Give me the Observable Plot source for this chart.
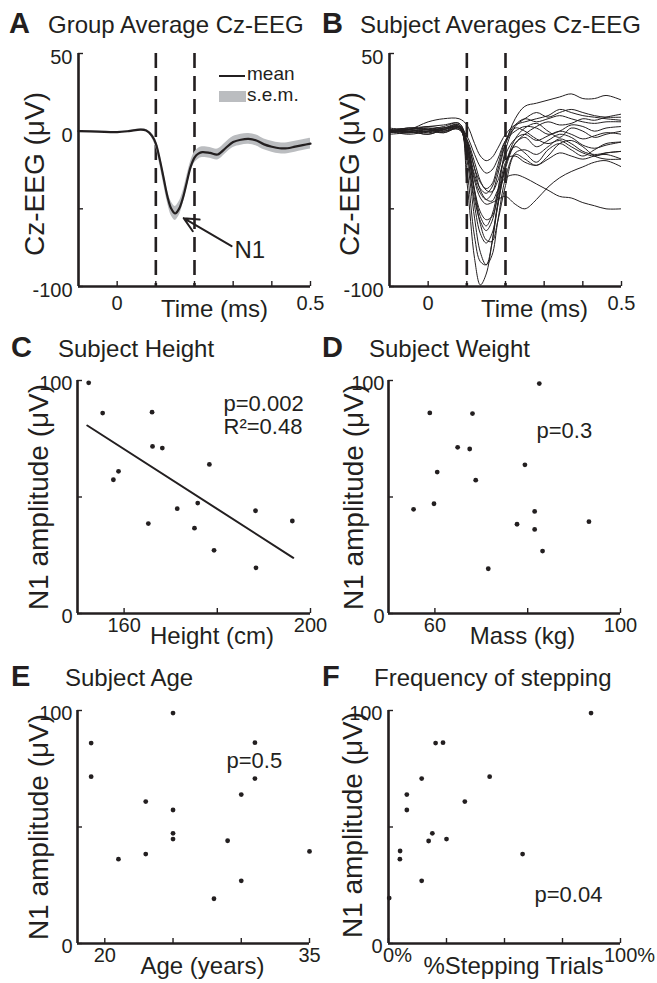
<!DOCTYPE html>
<html>
<head>
<meta charset="utf-8">
<script src="https://cdn.jsdelivr.net/npm/d3@7"></script>
<script src="https://cdn.jsdelivr.net/npm/@observablehq/plot@0.6"></script>
<style>
  body { margin: 0; background: #fff; font-family: "Liberation Sans", Arial, Helvetica, sans-serif; color: #231f20; }
  #fig { position: relative; width: 657px; height: 983px; overflow: hidden; background: #fff; }
  .cell { position: absolute; }
  .ttl { position: absolute; white-space: nowrap; font-size: 24px; line-height: 24px; }
  .ltr { position: absolute; white-space: nowrap; font-size: 29px; line-height: 29px; font-weight: bold; }
  .leg { position: absolute; white-space: nowrap; font-size: 19px; line-height: 16px; }
</style>
</head>
<body>
<div id="fig"></div>
<script>
const INK = "#231f20";
const SEM_FILL = "#bbbdc0";
const FONT = "'Liberation Sans', Arial, Helvetica, sans-serif";

// ---------- Panel A / B shared axes ----------
const timeTicks = [0, 0.1, 0.2, 0.3, 0.4, 0.5];
const timeTickLabels = ["0", "", "", "", "", "0.5"];
const eegTicks = [-100, -50, 0, 50];
const eegTickLabels = ["-100", "", "0", "50"];
const n1Window = [0.1, 0.2];

// ---------- Panel A: group average ----------
const meanTime = [-0.1, -0.05, 0, 0.03, 0.06, 0.075, 0.09, 0.1, 0.11, 0.12, 0.13, 0.14, 0.15, 0.16, 0.17, 0.18, 0.19, 0.2, 0.21, 0.22, 0.24, 0.26, 0.28, 0.3, 0.32, 0.34, 0.36, 0.38, 0.4, 0.42, 0.44, 0.46, 0.48, 0.5];
const meanEEG  = [0, -0.3, -0.6, 0, 1, 0.5, -3, -8, -18, -30, -42, -50, -53, -50, -43, -33, -23, -17, -14.5, -13.5, -14, -15, -11, -7, -5.5, -5, -6, -8.5, -10, -11, -11, -10, -9, -8];
const semEEG   = [0.4, 0.4, 0.4, 0.4, 0.5, 0.6, 1.5, 2.5, 3.5, 4, 4, 4.5, 4.5, 4.5, 4, 4, 3.5, 3.5, 3.5, 3.5, 3.5, 3.5, 3.5, 3.5, 3.5, 3.5, 3.5, 3.5, 3.5, 3.5, 3.5, 3.5, 3.5, 3.5];
const n1ArrowHead = [0.172, -56];
const n1ArrowTail = [0.296, -74];
const n1Text = "N1";
const legendLabels = ["mean", "s.e.m."];

// ---------- Panel B: subject averages ----------
const subjTime = [-0.1, -0.05, 0, 0.04, 0.08, 0.1, 0.12, 0.135, 0.15, 0.165, 0.18, 0.2, 0.225, 0.25, 0.28, 0.31, 0.34, 0.37, 0.4, 0.43, 0.46, 0.5];
const subjectTraces = [
  [0, 1, -1, 1, 3, -32, -82, -99, -92, -72, -46, -22, -8, -4, -10, -6, -2, -4, -9, -11, -9, -7],
  [0, -2, 0, 2, 4, -24, -68, -84, -86, -72, -48, -24, -8, -2, 3, 6, 4, 5, 8, 7, 9, 11],
  [-1, 1, 2, 0, 3, -18, -56, -78, -86, -80, -58, -30, -14, -12, -15, -10, -5, -8, -13, -15, -14, -13],
  [1, 0, -2, 1, 2, -15, -48, -66, -72, -66, -48, -22, -5, 2, 5, 0, -4, 2, 0, -4, -2, 0],
  [0, 2, 1, 3, 5, -10, -40, -60, -70, -71, -58, -35, -15, -18, -22, -16, -8, -6, -10, -16, -18, -18],
  [-2, -1, 0, -1, 2, -14, -44, -58, -64, -58, -40, -12, 3, 8, 12, 9, 12, 14, 12, 10, 9, 9],
  [1, 2, 3, 4, 5, -6, -38, -55, -61, -54, -38, -15, -5, -2, -6, -3, 0, -2, -5, -3, -1, -2],
  [0, -1, 1, 0, 2, -12, -38, -52, -57, -55, -42, -20, -10, -14, -20, -12, -8, -12, -16, -12, -8, -7],
  [-1, 0, -2, 1, 3, -10, -32, -43, -47, -46, -44, -42, -47, -50, -44, -36, -30, -26, -23, -20, -19, -23],
  [0, 1, 0, 2, 1, -6, -24, -38, -44, -45, -38, -30, -28, -30, -34, -38, -42, -43, -46, -48, -50, -50],
  [2, 1, 3, 2, 4, -8, -30, -40, -44, -40, -28, -8, 8, 16, 18, 20, 22, 24, 21, 21, 23, 20],
  [-1, 0, 1, 0, 1, -8, -28, -37, -40, -36, -25, -8, 2, 0, -5, -8, -6, -10, -14, -16, -14, -13],
  [0, 2, 1, -1, 2, -5, -20, -32, -38, -39, -32, -18, -16, -20, -22, -18, -14, -16, -18, -16, -15, -18],
  [1, -1, 0, 2, 3, -6, -24, -33, -37, -34, -22, -6, 4, 8, 6, 8, 10, 8, 6, 5, 6, 6],
  [0, 0, 2, 1, 3, -3, -15, -23, -27, -25, -18, -6, 0, 3, 2, -2, 0, 4, 3, 0, 2, 3],
  [0, 1, 6, 8, 8, 4, -8, -16, -19, -17, -11, -2, 4, 6, 8, 10, 14, 12, 10, 9, 8, 7]
];

// ---------- Panels C-F shared ----------
const n1Ticks = [0, 50, 100];
const n1TickLabels = ["0", "", "100"];

// C: height
const heightTicks = [160, 180, 200];
const heightTickLabels = ["160", "", "200"];
const heightCm = [152.4, 155.4, 166, 166.1, 168.2, 157.7, 158.8, 178.3, 175.8, 171.4, 188.2, 196.1, 165.2, 175.1, 179.3, 188.3];
const heightN1 = [99, 86, 86.4, 71.7, 71, 57.4, 61, 64, 47.4, 45, 44.1, 39.7, 38.6, 36.6, 27.1, 19.6];
const heightFitX = [152.1, 196.3];
const heightFitY = [80.7, 23.9];
const heightStats = ["p=0.002", "R\u00b2=0.48"];

// D: mass
const massTicks = [60, 80, 100];
const massTickLabels = ["60", "", "100"];
const massKg = [82.5, 58.9, 68.1, 64.9, 67.5, 60.5, 68.8, 79.4, 59.8, 55.4, 81.5, 93.2, 77.7, 81.5, 83.2, 71.5];
const massN1 = [98.7, 86.1, 85.8, 71.3, 70.6, 60.7, 57.2, 63.8, 47.1, 44.7, 43.8, 39.4, 38.3, 36.1, 26.8, 19.2];
const massStats = ["p=0.3"];

// E: age
const ageTicks = [20, 25, 30, 35];
const ageTickLabels = ["20", "", "", "35"];
const ageYears = [25, 19, 31, 19, 31, 30, 23, 25, 25, 25, 29, 21, 23, 35, 30, 28];
const ageN1 = [98.9, 86, 86.2, 71.6, 70.8, 63.9, 60.9, 57.3, 47.3, 44.8, 44.1, 36.2, 38.4, 39.5, 26.9, 19.2];
const ageStats = ["p=0.5"];

// F: stepping
const stepTicks = [0, 25, 50, 75, 100];
const stepTickLabels = ["0%", "", "", "", "100%"];
const steppingPct = [87.3, 20.3, 23.5, 14.3, 43.6, 7.9, 7.9, 32.9, 18.9, 17.3, 25, 5, 4.9, 57.8, 14.3, 0.3];
const steppingN1 = [98.9, 86, 86.2, 70.8, 71.6, 63.9, 57.3, 60.9, 47.3, 44, 44.8, 39.7, 36.2, 38.4, 26.9, 19.5];
const stepStats = ["p=0.04"];

// ---------- tables built from the arrays ----------
const meanTable = meanTime.map((t, i) => ({t, v: meanEEG[i], lo: meanEEG[i] - semEEG[i], hi: meanEEG[i] + semEEG[i]}));
const subjTable = subjectTraces.flatMap((tr, s) => tr.map((v, i) => ({s, t: subjTime[i], v})));
const pairs = (xs, ys) => xs.map((x, i) => ({x, y: ys[i]}));

// ---------- generic MATLAB-like panel ----------
function makePanel(cfg) {
  const {width, height, ml, mr, mt, mb} = cfg;
  const pw = width - ml - mr, ph = height - mt - mb;
  const xMap = new Map(cfg.xTicks.map((d, i) => [d, cfg.xTickLabels[i]]));
  const yMap = new Map(cfg.yTicks.map((d, i) => [d, cfg.yTickLabels[i]]));
  return Plot.plot({
    width, height,
    marginLeft: ml, marginRight: mr, marginTop: mt, marginBottom: mb,
    style: {fontFamily: FONT, color: INK, background: "transparent", overflow: "visible"},
    x: {domain: cfg.xDomain},
    y: {domain: cfg.yDomain},
    marks: [
      ...cfg.marks,
      Plot.tickX(cfg.xTicks, {x: d => d, insetTop: ph - 5, stroke: INK, strokeWidth: 1.4}),
      Plot.tickY(cfg.yTicks, {y: d => d, insetRight: pw - 5, stroke: INK, strokeWidth: 1.4}),
      Plot.ruleX([cfg.xDomain[0]], {stroke: INK, strokeWidth: 2.6}),
      Plot.ruleY([cfg.yDomain[0]], {stroke: INK, strokeWidth: 2.6}),
      Plot.axisX(cfg.xTicks, {tickSize: 0, tickPadding: cfg.xPad, tickFormat: d => xMap.get(d), fontSize: 20, label: null, dx: cfg.xTickDx || 0}),
      Plot.axisY(cfg.yTicks, {tickSize: 0, tickPadding: cfg.yPad, tickFormat: d => yMap.get(d), fontSize: 20, label: null, dy: cfg.yTickDy}),
      Plot.text([cfg.xLabel], {frameAnchor: "bottom", text: d => d, lineAnchor: "top", textAnchor: "middle", dy: 13, dx: cfg.xLabelDx, fontSize: 24}),
      Plot.text([cfg.yLabel], {frameAnchor: "left", text: d => d, rotate: -90, textAnchor: "middle", lineAnchor: "middle", dx: cfg.yLabelDx, dy: cfg.yLabelDy, fontSize: 28})
    ]
  });
}

const fig = document.getElementById("fig");
function place(el, left, top) {
  const d = document.createElement("div");
  d.className = "cell";
  d.style.left = left + "px";
  d.style.top = top + "px";
  d.appendChild(el);
  fig.appendChild(d);
}
function html(cls, text, left, top) {
  const d = document.createElement("div");
  d.className = cls;
  d.textContent = text;
  d.style.left = left + "px";
  d.style.top = top + "px";
  fig.appendChild(d);
}
const statText = (arr, dx, dy0, step) => arr.map((s, i) =>
  Plot.text([s], {frameAnchor: "top-left", text: d => d, dx, dy: dy0 + i * step, lineAnchor: "bottom", textAnchor: "start", fontSize: 22}));

// Panel A
place(makePanel({
  width: 328, height: 330, ml: 78, mr: 18, mt: 53, mb: 44,
  xDomain: [-0.1, 0.5], yDomain: [-100, 50],
  xTicks: timeTicks, xTickLabels: timeTickLabels, yTicks: eegTicks, yTickLabels: eegTickLabels,
  xPad: 9, yPad: 6, yTickDy: 4,
  xLabel: "Time (ms)", xLabelDx: 20, yLabel: "Cz-EEG (\u03bcV)", yLabelDx: -43, yLabelDy: 4,
  marks: [
    Plot.ruleX(n1Window, {x: d => d, stroke: INK, strokeWidth: 2.6, strokeDasharray: "15,8"}),
    Plot.areaY(meanTable, {x: "t", y1: "lo", y2: "hi", fill: SEM_FILL, curve: "catmull-rom"}),
    Plot.line(meanTable, {x: "t", y: "v", stroke: INK, strokeWidth: 2.2, curve: "catmull-rom"}),
    Plot.arrow([0], {x1: n1ArrowTail[0], y1: n1ArrowTail[1], x2: n1ArrowHead[0], y2: n1ArrowHead[1], stroke: INK, strokeWidth: 2, headLength: 12, headAngle: 50}),
    Plot.text([n1Text], {frameAnchor: "top-left", text: d => d, dx: 156, dy: 204, lineAnchor: "bottom", textAnchor: "start", fontSize: 24})
  ]
}), 0, 0);

// Panel B
place(makePanel({
  width: 329, height: 330, ml: 61, mr: 36, mt: 53, mb: 44,
  xDomain: [-0.1, 0.5], yDomain: [-100, 50],
  xTicks: timeTicks, xTickLabels: timeTickLabels, yTicks: eegTicks, yTickLabels: eegTickLabels,
  xPad: 9, yPad: 6, yTickDy: 4,
  xLabel: "Time (ms)", xLabelDx: 29, yLabel: "Cz-EEG (\u03bcV)", yLabelDx: -39, yLabelDy: 4,
  marks: [
    Plot.ruleX(n1Window, {x: d => d, stroke: INK, strokeWidth: 2.6, strokeDasharray: "15,8"}),
    Plot.line(subjTable, {x: "t", y: "v", z: "s", stroke: INK, strokeWidth: 1, curve: "catmull-rom", clip: true})
  ]
}), 328, 0);

// Panel C
place(makePanel({
  width: 328, height: 320, ml: 77, mr: 18, mt: 50, mb: 37,
  xDomain: [150, 200], yDomain: [0, 100],
  xTicks: heightTicks, xTickLabels: heightTickLabels, yTicks: n1Ticks, yTickLabels: n1TickLabels,
  xPad: 4, yPad: 5, yTickDy: 3,
  xLabel: "Height (cm)", xLabelDx: 18, yLabel: "N1 amplitude (\u03bcV)", yLabelDx: -38, yLabelDy: 0,
  marks: [
    Plot.line(pairs(heightFitX, heightFitY), {x: "x", y: "y", stroke: INK, strokeWidth: 2}),
    Plot.dot(pairs(heightCm, heightN1), {x: "x", y: "y", r: 2.4, fill: INK, stroke: null}),
    ...statText(heightStats, 146, 30, 23)
  ]
}), 0, 330);

// Panel D
place(makePanel({
  width: 329, height: 320, ml: 60, mr: 37, mt: 50, mb: 37,
  xDomain: [50, 100], yDomain: [0, 100],
  xTicks: massTicks, xTickLabels: massTickLabels, yTicks: n1Ticks, yTickLabels: n1TickLabels,
  xPad: 4, yPad: 4, yTickDy: 3,
  xLabel: "Mass (kg)", xLabelDx: 18, yLabel: "N1 amplitude (\u03bcV)", yLabelDx: -34, yLabelDy: 0,
  marks: [
    Plot.dot(pairs(massKg, massN1), {x: "x", y: "y", r: 2.4, fill: INK, stroke: null}),
    ...statText(massStats, 148, 57, 23)
  ]
}), 328, 330);

// Panel E
place(makePanel({
  width: 328, height: 333, ml: 77, mr: 19, mt: 60, mb: 40,
  xDomain: [18, 35], yDomain: [0, 100],
  xTicks: ageTicks, xTickLabels: ageTickLabels, yTicks: n1Ticks, yTickLabels: n1TickLabels,
  xPad: 4, yPad: 5, yTickDy: 3,
  xLabel: "Age (years)", xLabelDx: 9, yLabel: "N1 amplitude (\u03bcV)", yLabelDx: -38, yLabelDy: 0,
  marks: [
    Plot.dot(pairs(ageYears, ageN1), {x: "x", y: "y", r: 2.4, fill: INK, stroke: null}),
    ...statText(ageStats, 149, 57, 23)
  ]
}), 0, 650);

// Panel F
place(makePanel({
  width: 329, height: 333, ml: 60, mr: 37, mt: 60, mb: 40,
  xDomain: [0, 100], yDomain: [0, 100],
  xTicks: stepTicks, xTickLabels: stepTickLabels, yTicks: n1Ticks, yTickLabels: n1TickLabels,
  xPad: 4, yPad: 6, yTickDy: 3, xTickDx: 9,
  xLabel: "%Stepping Trials", xLabelDx: 9, yLabel: "N1 amplitude (\u03bcV)", yLabelDx: -35, yLabelDy: -2,
  marks: [
    Plot.dot(pairs(steppingPct, steppingN1), {x: "x", y: "y", r: 2.4, fill: INK, stroke: null}),
    ...statText(stepStats, 146, 191, 23)
  ]
}), 328, 650);

// ---------- titles ----------
const titles = [
  ["A", "Group Average Cz-EEG", 9, 48, 33],
  ["B", "Subject Averages Cz-EEG", 322, 360, 33],
  ["C", "Subject Height", 11, 58, 357],
  ["D", "Subject Weight", 322, 369, 357],
  ["E", "Subject Age", 11, 65, 686.5],
  ["F", "Frequency of stepping", 322, 374, 686.5]
];
titles.forEach(([l, t, lx, tx, base]) => {
  html("ltr", l, lx, base - 24.5);
  html("ttl", t, tx, base - 20.3);
});

// ---------- legend (panel A) ----------
const bar = document.createElement("div");
Object.assign(bar.style, {position: "absolute", left: "219px", top: "75px", width: "26px", height: "2px", background: INK});
fig.appendChild(bar);
const box = document.createElement("div");
Object.assign(box.style, {position: "absolute", left: "219px", top: "91px", width: "27px", height: "11px", background: SEM_FILL});
fig.appendChild(box);
html("leg", legendLabels[0], 247, 80.5 - 14.6);
html("leg", legendLabels[1], 247, 101.7 - 14.6);
</script>
</body>
</html>
